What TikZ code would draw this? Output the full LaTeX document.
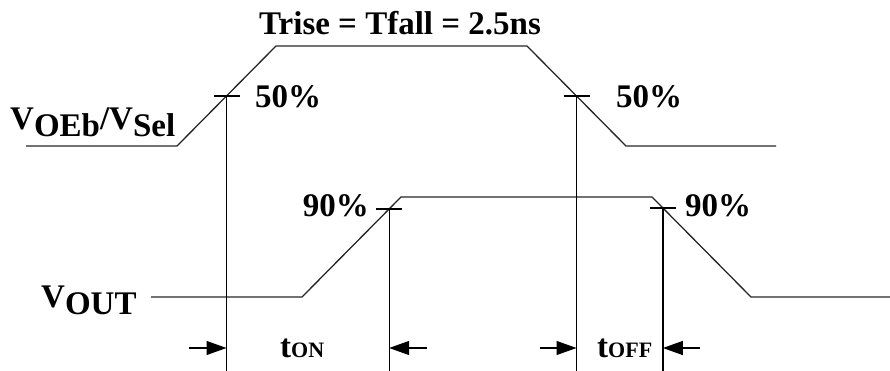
\documentclass[tikz,border=0pt]{standalone}
\usepackage{fontspec}
\setmainfont{Liberation Serif}
\usetikzlibrary{calc,positioning,arrows.meta}

\newcommand{\sigsub}[2]{#1\raisebox{-7pt}{#2}}
\newcommand{\smallsub}[2]{#1{\fontsize{22}{22}\selectfont #2}}

\begin{document}
\begin{tikzpicture}[
  x=1pt, y=-1pt,
  wave/.style  = {line width=1.3pt, black!85},
  guide/.style = {line width=1.2pt, black},
  dim/.style   = {-{Triangle[length=20pt,width=14pt]}, line width=1.2pt},
  lbl/.style   = {font=\fontsize{33}{33}\selectfont\bfseries, inner sep=0pt}
]
  \useasboundingbox (0,0) rectangle (890,371);

  % Input waveform VOEb/VSel
  \coordinate (a0) at (26,146);
  \coordinate (a1) at (177,146);
  \coordinate (a2) at (276,46);
  \coordinate (a3) at (527,46);
  \coordinate (a4) at (626,146);
  \coordinate (a5) at (776,146);
  \draw[wave] (a0) -- (a1) -- (a2) -- (a3) -- (a4) -- (a5);

  % Output waveform VOUT
  \coordinate (b0) at (151,297);
  \coordinate (b1) at (302,297);
  \coordinate (b2) at (401,197);
  \coordinate (b3) at (652,197);
  \coordinate (b4) at (751,297);
  \coordinate (b5) at (890,297);
  \draw[wave] (b0) -- (b1) -- (b2) -- (b3) -- (b4) -- (b5);

  % 50% and 90% points
  \coordinate (on50)  at ($(a1)!0.5!(a2)$);
  \coordinate (off50) at ($(a3)!0.5!(a4)$);
  \coordinate (on90)  at ($(b1)!0.88!(b2)$);
  \coordinate (off90) at ($(b3)!0.11!(b4)$);

  % Ticks and guide lines
  \foreach \p in {on50,off50,on90,off90} {
    \draw[guide] ($(\p)+(-13,0)$) -- ($(\p)+(13,0)$);
    \draw[guide] (\p) -- (\p |- 0,371);
  }

  % Dimension arrows
  \coordinate (ya) at (0,348);
  \coordinate (onL)  at (on50 |- ya);
  \coordinate (onR)  at (on90 |- ya);
  \coordinate (offL) at (off50 |- ya);
  \coordinate (offR) at (off90 |- ya);
  \draw[dim] ($(onL)+(-38,0)$) -- (onL);
  \draw[dim] ($(onR)+(38,0)$) -- (onR);
  \draw[dim] ($(offL)+(-37,0)$) -- (offL);
  \draw[dim] ($(offR)+(37,0)$) -- (offR);

  % Labels
  \node[lbl] (title) at (400,23) {Trise = Tfall = 2.5ns};
  \node[lbl, anchor=base west] (vin) at (10,130) {\sigsub{V}{OEb}/\sigsub{V}{Sel}};
  \node[lbl, anchor=base west] (vout) at (41,307) {\sigsub{V}{OUT}};
  \node[lbl, anchor=west] (p50a) at (255,97) {50\%};
  \node[lbl, anchor=west] (p50b) at (616,97) {50\%};
  \node[lbl, anchor=east] (p90a) at (369,206) {90\%};
  \node[lbl, anchor=west] (p90b) at (685,206) {90\%};
  \node[lbl, anchor=base west] (ton) at (280,357) {\smallsub{t}{ON}};
  \node[lbl, anchor=base west] (toff) at (597,357) {\smallsub{t}{OFF}};
\end{tikzpicture}
\end{document}
